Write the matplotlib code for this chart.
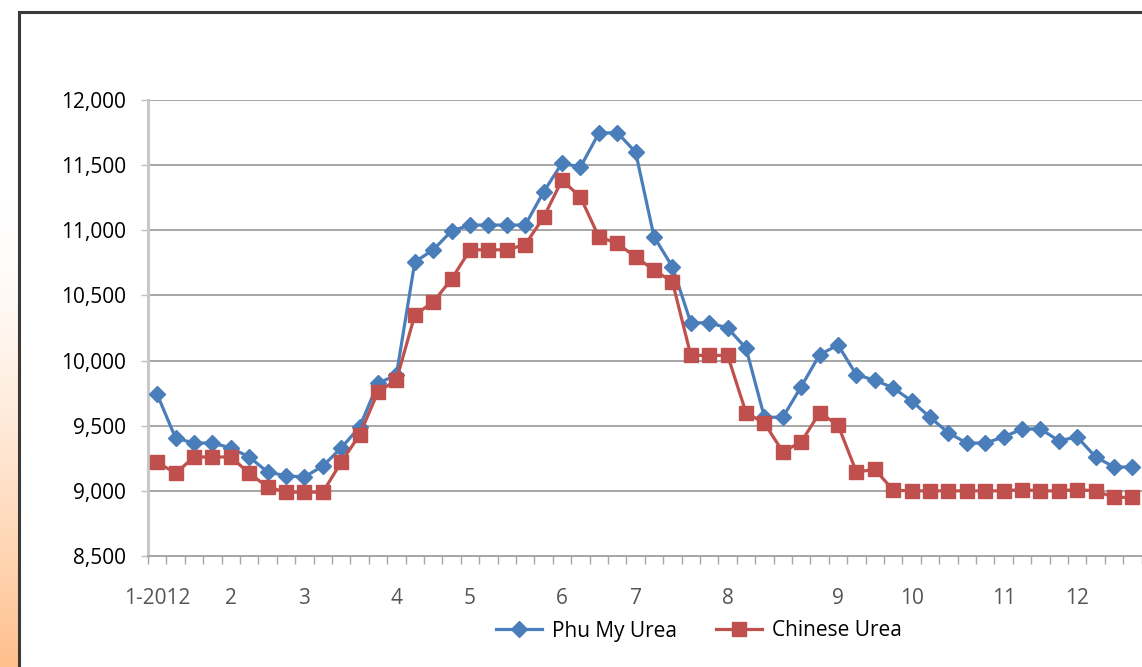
import numpy as np
import matplotlib
matplotlib.use("Agg")
import matplotlib.pyplot as plt
from matplotlib.lines import Line2D
from matplotlib.ticker import FuncFormatter

plt.rcParams['font.family'] = ['Open Sans', 'DejaVu Sans']

# weekly prices, 2012
phu_my = [9740, 9405, 9367, 9367, 9330, 9260, 9145, 9115, 9107, 9190,
          9330, 9490, 9825, 9890, 10757, 10850, 10995, 11040, 11040, 11040,
          11040, 11295, 11515, 11485, 11745, 11750, 11600, 10950, 10720,
          10290, 10290, 10250, 10095, 9565, 9565, 9800, 10045, 10120, 9890,
          9850, 9790, 9690, 9565, 9445, 9367, 9367, 9413, 9475, 9475, 9385,
          9413, 9260, 9183, 9183]
chinese = [9220, 9135, 9260, 9260, 9260, 9135, 9030, 8990, 8990, 8990,
           9220, 9430, 9760, 9850, 10350, 10450, 10625, 10850, 10850, 10850,
           10890, 11100, 11385, 11255, 10950, 10900, 10795, 10695, 10605,
           10040, 10040, 10040, 9600, 9520, 9300, 9375, 9600, 9505, 9145,
           9165, 9005, 9000, 9000, 9000, 9000, 9000, 9000, 9010, 9000, 9000,
           9010, 9000, 8950, 8950]
month_pos = [0, 4, 8, 13, 17, 22, 26, 31, 37, 41, 46, 50]
month_labels = ['1-2012', '2', '3', '4', '5', '6', '7', '8', '9', '10', '11', '12']

blue = '#4A7EBB'
red = '#C0504D'

fig = plt.figure(figsize=(11.42, 6.67), dpi=100)
fig.patch.set_facecolor('white')

# faint orange strip on the far left
strip = fig.add_axes([0, 0, 18 / 1142, 1])
t = np.linspace(0, 1, 256)
grad = np.clip((t - 0.3) / 0.7, 0, 1) ** 1.5
cols = np.ones((256, 1, 3))
cols[:, 0, 1] = 1 - grad * 0.25
cols[:, 0, 2] = 1 - grad * 0.45
strip.imshow(cols[::-1], aspect='auto', extent=[0, 1, 0, 1], origin='lower')
strip.axis('off')

# dark frame
fig.add_artist(Line2D([19.5 / 1142, 19.5 / 1142], [0, 1 - 12 / 667],
                      color='#3a3a3a', lw=2.2))
fig.add_artist(Line2D([19.5 / 1142, 1], [1 - 12 / 667, 1 - 12 / 667],
                      color='#3a3a3a', lw=2.2))

ax = fig.add_axes([148 / 1142, 1 - 556 / 667, 1 - 148 / 1142, 456 / 667])
x = np.arange(len(phu_my))

ax.plot(x, phu_my, color=blue, lw=2.3, marker='D', markersize=8,
        label='Phu My Urea', zorder=3, clip_on=False)
ax.plot(x, chinese, color=red, lw=2.3, marker='s', markersize=10.5,
        label='Chinese Urea', zorder=4, clip_on=False)

ax.set_xlim(-0.5, 53.52)
ax.set_ylim(8500, 12000)
ax.set_yticks(np.arange(8500, 12001, 500))
ax.yaxis.set_major_formatter(FuncFormatter(lambda v, p: f'{int(v):,}'))
ax.grid(axis='y', color='#a6a6a6', lw=1.4)
ax.set_axisbelow(True)

ax.set_xticks(month_pos)
ax.set_xticklabels(month_labels)
ax.set_xticks(np.arange(-0.5, 54, 1), minor=True)
ax.tick_params(axis='x', which='major', length=0, pad=23,
               labelsize=15, labelcolor='#555555')
ax.tick_params(axis='x', which='minor', length=5.5, width=1,
               color='#a6a6a6', direction='out')
ax.tick_params(axis='y', length=5, width=1, color='#bfbfbf', pad=11,
               labelsize=15, labelcolor='black')

for s in ['top', 'right']:
    ax.spines[s].set_visible(False)
ax.spines['left'].set_color('#c8c8c8')
ax.spines['left'].set_linewidth(2.2)
ax.spines['bottom'].set_color('#a6a6a6')
ax.spines['bottom'].set_linewidth(1.4)

fig.legend(loc='center', bbox_to_anchor=(699 / 1142, 1 - 631 / 667), ncol=2,
           frameon=False, fontsize=15, handlelength=2.2, handletextpad=0.5,
           columnspacing=1.85)

fig.savefig('out.png', dpi=100)
